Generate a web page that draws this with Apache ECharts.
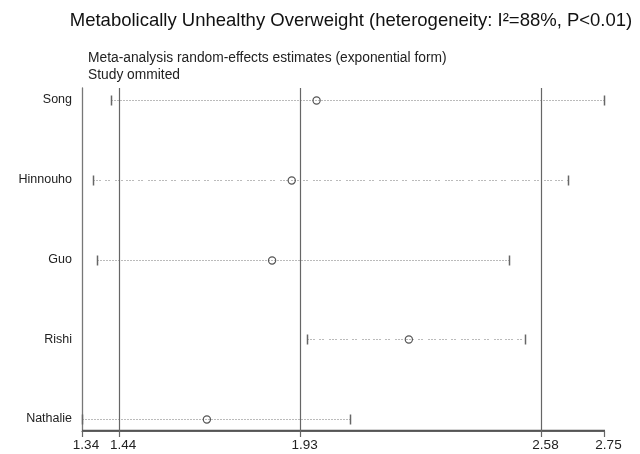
<!DOCTYPE html>
<html>
<head>
    <meta charset="utf-8">
    <title>Metabolically Unhealthy Overweight</title>
    <script type="text/javascript" src="https://cdn.jsdelivr.net/npm/echarts@6/dist/echarts.min.js"></script>
    <style>
        html, body { margin: 0; padding: 0; background: #fff; }
    </style>
</head>
<body>

<div id="demo1" style="width: 640px; height: 454px;"></div>

<script>
    // studies omitted, top row first
    var studies = ['Song', 'Hinnouho', 'Guo', 'Rishi', 'Nathalie'];
    var lower = [1.417, 1.370, 1.380, 1.948, 1.340];
    var estimate = [1.973, 1.906, 1.853, 2.222, 1.677];
    var upper = [2.749, 2.652, 2.492, 2.536, 2.063];
    var sparse = [0, 1, 0, 1, 0];
    // overall estimate and its CI
    var refLines = [1.44, 1.93, 2.58];
    var tickValues = [1.34, 1.44, 1.93, 2.58, 2.75];

    var demo1 = echarts.init(document.getElementById("demo1"));
    var font = 'Liberation Sans, Arial, sans-serif';
    var last = studies.length - 1;
    var pad = 0.15;  // space between the outer rows and the frame
    var xMin = tickValues[0], xMax = tickValues[tickValues.length - 1];

    var rowPos = studies.map(function (s, i) { return last - i + pad; });
    var data = [];
    for (var i = 0; i < studies.length; i++) {
        data.push([lower[i], estimate[i], upper[i], rowPos[i], sparse[i]]);
    }

    function renderItem(params, api) {
        var row = api.value(3);
        var pLo = api.coord([api.value(0), row]);
        var pEst = api.coord([api.value(1), row]);
        var pHi = api.coord([api.value(2), row]);
        var y = Math.round(pLo[1]) + 0.5;
        var x1 = Math.round(pLo[0]) + 0.5;
        var x2 = Math.round(pHi[0]) + 0.5;
        var dash = api.value(4) ? [1, 2, 1, 2, 1, 5, 1, 2, 1, 6, 1, 2, 1, 2, 1, 4] : [1, 2];
        var children = [
            {
                type: 'line',
                shape: {x1: x1, y1: y, x2: x2, y2: y},
                style: {stroke: '#777', lineWidth: 1, lineDash: dash}
            },
            {
                type: 'line',
                shape: {x1: x1, y1: y - 5, x2: x1, y2: y + 5},
                style: {stroke: '#666', lineWidth: 1.5}
            },
            {
                type: 'line',
                shape: {x1: x2, y1: y - 5, x2: x2, y2: y + 5},
                style: {stroke: '#666', lineWidth: 1.5}
            },
            {
                type: 'circle',
                shape: {cx: pEst[0], cy: y, r: 3.6},
                style: {stroke: '#555', lineWidth: 1.2, fill: 'rgba(255,255,255,0)'}
            }
        ];
        if (params.dataIndex === 0) {
            // bottom axis line from the first to the last tick value
            var a = api.coord([xMin, 0]);
            var b = api.coord([xMax, 0]);
            children.push({
                type: 'line',
                z2: 100,
                shape: {x1: a[0], y1: Math.round(a[1]) - 0.5, x2: b[0] + 0.5, y2: Math.round(b[1]) - 0.5},
                style: {stroke: '#555', lineWidth: 1.4}
            });
        }
        return {type: 'group', children: children};
    }

    var option = {
        animation: false,
        backgroundColor: '#fff',
        title: [{
            text: 'Metabolically Unhealthy Overweight (heterogeneity: I\u00b2=88%, P<0.01)',
            left: 346,
            top: 6,
            textAlign: 'center',
            textStyle: {fontFamily: font, fontSize: 18.5, fontWeight: 'normal', color: '#111'}
        }, {
            text: 'Meta-analysis random-effects estimates (exponential form)\nStudy ommited',
            left: 83,
            top: 45,
            textStyle: {fontFamily: font, fontSize: 13.8, fontWeight: 'normal', color: '#222', lineHeight: 17}
        }],
        grid: {left: 82, right: 35.5, top: 88, bottom: 23},
        xAxis: {
            type: 'value',
            position: 'bottom',
            min: xMin,
            max: xMax,
            axisLine: {show: true, lineStyle: {color: '#666', width: 1.2}},
            axisTick: {show: true, customValues: tickValues, length: 6, lineStyle: {color: '#666', width: 1.2}},
            axisLabel: {
                customValues: tickValues,
                formatter: function (v) { return v.toFixed(2); },
                fontFamily: font, fontSize: 13.5, color: '#222', margin: 7,
                padding: [0, 0, 0, 8]
            },
            splitLine: {show: false}
        },
        yAxis: {
            type: 'value',
            min: 0,
            max: last + 2 * pad,
            axisLine: {show: true, onZero: false, lineStyle: {color: '#777', width: 1.3}},
            axisTick: {show: false},
            axisLabel: {
                customValues: rowPos,
                formatter: function (v) { return studies[last - Math.round(v - pad)]; },
                fontFamily: font, fontSize: 12.5, color: '#222', margin: 10
            },
            splitLine: {show: false}
        },
        series: [{
            type: 'line',
            data: [],
            markLine: {
                silent: true,
                symbol: 'none',
                label: {show: false},
                lineStyle: {color: '#666', width: 1.2, type: 'solid'},
                data: refLines.map(function (v) { return {xAxis: v}; })
            }
        }, {
            type: 'custom',
            renderItem: renderItem,
            encode: {x: [0, 1, 2], y: 3},
            clip: false,
            data: data
        }]
    };
    demo1.setOption(option);
</script>

</body>
</html>
